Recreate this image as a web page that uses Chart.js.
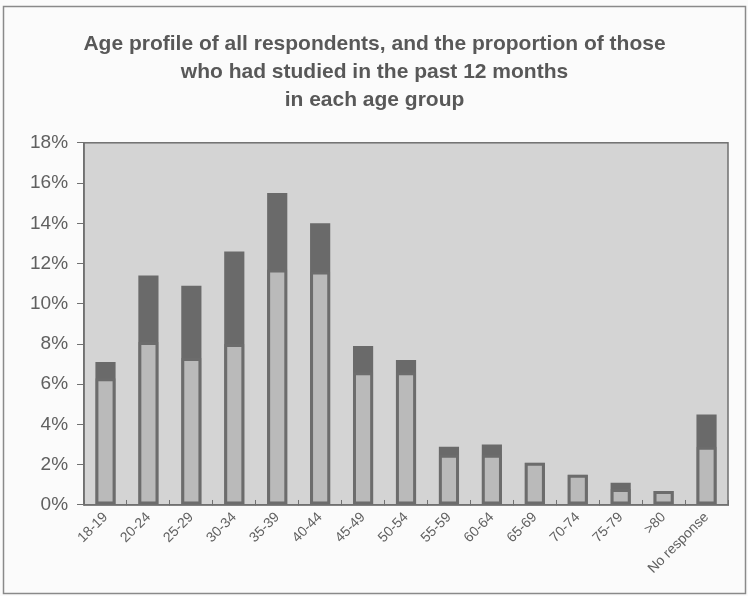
<!DOCTYPE html>
<html>
<head>
<meta charset="utf-8">
<script src="https://cdn.jsdelivr.net/npm/chart.js@4/dist/chart.umd.min.js"></script>
<style>
  html, body { margin: 0; padding: 0; background: #fbfbfb; }
  #wrap { width: 748px; height: 596px; position: relative; }
</style>
</head>
<body>
<div id="wrap"><canvas id="c" width="748" height="596"></canvas></div>
<script>
// Age groups along the x axis
const categories = ['18-19', '20-24', '25-29', '30-34', '35-39', '40-44', '45-49', '50-54',
  '55-59', '60-64', '65-69', '70-74', '75-79', '>80', 'No response'];

// Share of all respondents in each age group (%)
const allRespondents = [7.1, 11.4, 10.9, 12.6, 15.5, 14.0, 7.9, 7.2, 2.9, 3.0, 2.1, 1.5, 1.1, 0.7, 4.5];

// Share who had studied in the past 12 months (%)
const studiedPast12 = [6.3, 8.1, 7.3, 8.0, 11.7, 11.6, 6.6, 6.6, 2.5, 2.5, 2.1, 1.5, 0.8, 0.7, 2.9];

// Percentage axis ticks
const yTicks = [0, 2, 4, 6, 8, 10, 12, 14, 16, 18];

const titleLines = [
  'Age profile of all respondents, and the proportion of those',
  'who had studied in the past 12 months',
  'in each age group'
];

// Shaded plot background, frame round the plot and round the whole chart
const framePlugin = {
  id: 'frames',
  beforeDraw(chart) {
    const { ctx, chartArea: a } = chart;
    ctx.save();
    ctx.fillStyle = '#d4d4d4';
    ctx.fillRect(a.left, a.top, a.right - a.left, a.bottom - a.top);
    ctx.restore();
  },
  afterDraw(chart) {
    const { ctx, chartArea: a } = chart;
    ctx.save();
    ctx.strokeStyle = '#707070';
    ctx.lineWidth = 1.5;
    ctx.strokeRect(a.left, a.top, a.right - a.left, a.bottom - a.top);
    ctx.strokeStyle = '#8a8a8a';
    ctx.lineWidth = 1.5;
    ctx.strokeRect(3.5, 6.5, chart.width - 6, chart.height - 9);
    ctx.restore();
  }
};

new Chart(document.getElementById('c'), {
  type: 'bar',
  data: {
    labels: categories,
    datasets: [
      {
        label: 'Studied in the past 12 months',
        data: studiedPast12,
        backgroundColor: '#bababa',
        borderColor: '#6c6c6c',
        borderWidth: 3,
        borderSkipped: false,
        grouped: false,
        order: 0,
        categoryPercentage: 1,
        barPercentage: 0.47
      },
      {
        label: 'All respondents',
        data: allRespondents,
        backgroundColor: '#6a6a6a',
        borderWidth: 0,
        grouped: false,
        order: 1,
        categoryPercentage: 1,
        barPercentage: 0.47
      }
    ]
  },
  options: {
    responsive: false,
    animation: false,
    events: [],
    layout: { padding: { left: 21, right: 20, top: 14, bottom: 10 } },
    plugins: {
      legend: { display: false },
      tooltip: { enabled: false },
      title: {
        display: true,
        text: titleLines,
        color: '#585858',
        font: { family: 'Liberation Sans, Arial, sans-serif', size: 21, weight: 'bold', lineHeight: 1.33 },
        padding: { top: 16, bottom: 29 }
      }
    },
    scales: {
      x: {
        grid: {
          display: true,
          offset: true,
          drawOnChartArea: false,
          drawTicks: true,
          tickLength: -5,
          color: '#707070',
          lineWidth: 1
        },
        border: { display: true, color: '#707070', width: 1.5 },
        ticks: {
          autoSkip: false,
          maxRotation: 45,
          minRotation: 45,
          padding: 9,
          color: '#606060',
          font: { family: 'Liberation Sans, Arial, sans-serif', size: 14 }
        }
      },
      y: {
        min: 0,
        max: 18,
        afterBuildTicks(scale) {
          scale.ticks = yTicks.map(v => ({ value: v }));
        },
        grid: {
          display: true,
          drawOnChartArea: false,
          drawTicks: true,
          tickLength: 7,
          color: '#707070',
          lineWidth: 1
        },
        border: { display: true, color: '#707070', width: 1.5 },
        ticks: {
          padding: 9,
          color: '#606060',
          font: { family: 'Liberation Sans, Arial, sans-serif', size: 19 },
          callback: v => v + '%'
        }
      }
    }
  },
  plugins: [framePlugin]
});
</script>
</body>
</html>
